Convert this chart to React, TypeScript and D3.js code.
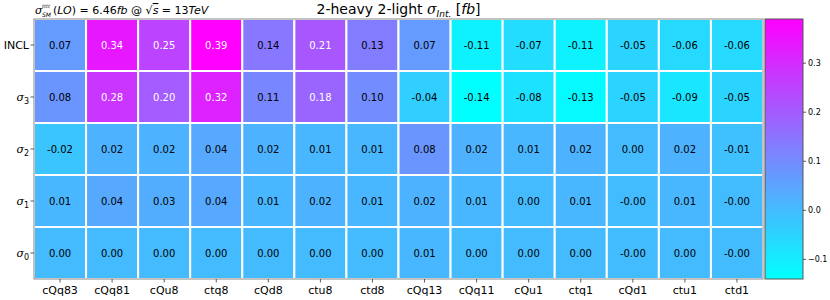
import React from 'react';
import * as d3 from 'd3';

// operators along x
const operators = ['cQq83', 'cQq81', 'cQu8', 'ctq8', 'cQd8', 'ctu8', 'ctd8', 'cQq13', 'cQq11', 'cQu1', 'ctq1', 'cQd1', 'ctu1', 'ctd1'];

// rows, top to bottom
const rowKeys = ['INCL', 's3', 's2', 's1', 's0'];

const incl = [0.07, 0.34, 0.25, 0.39, 0.14, 0.21, 0.13, 0.07, -0.11, -0.07, -0.11, -0.05, -0.06, -0.06];
const sigma3 = [0.08, 0.28, 0.20, 0.32, 0.11, 0.18, 0.10, -0.04, -0.14, -0.08, -0.13, -0.05, -0.09, -0.05];
const sigma2 = [-0.02, 0.02, 0.02, 0.04, 0.02, 0.01, 0.01, 0.08, 0.02, 0.01, 0.02, 0.001, 0.02, -0.01];
const sigma1 = [0.01, 0.04, 0.03, 0.04, 0.01, 0.02, 0.01, 0.02, 0.01, 0.001, 0.01, -0.001, 0.01, -0.001];
const sigma0 = [0.001, 0.001, 0.001, 0.001, 0.001, 0.001, 0.001, 0.01, 0.001, 0.001, 0.001, -0.001, 0.001, -0.001];

const colorTicks = [-0.1, 0.0, 0.1, 0.2, 0.3];

const rows = [incl, sigma3, sigma2, sigma1, sigma0];

const margin = { top: 19, right: 67, bottom: 21, left: 34 };
const W = 830;
const H = 300;
const font = 'DejaVu Sans, sans-serif';

// matplotlib "cool"
const cool = (t: number) => {
  const c = Math.max(0, Math.min(1, t));
  return `rgb(${Math.round(255 * c)},${Math.round(255 * (1 - c))},255)`;
};

const RowLabel = ({ k }: { k: string }) => {
  if (k === 'INCL') return <tspan>INCL</tspan>;
  return (
    <>
      <tspan fontStyle="italic" fontFamily="DejaVu Serif, serif">σ</tspan>
      <tspan fontSize={8} dy={3}>{k.slice(1)}</tspan>
    </>
  );
};

export default function App() {
  const x0 = margin.left;
  const x1 = 763;
  const y0 = margin.top;
  const y1 = H - margin.bottom;

  const x = d3.scaleBand().domain(operators).range([x0, x1]);
  const y = d3.scaleBand().domain(rowKeys).range([y0, y1]);

  const all = rows.flat();
  const vmin = d3.min(all) as number;
  const vmax = d3.max(all) as number;
  const norm = d3.scaleLinear().domain([vmin, vmax]).range([0, 1]);

  const cbX = 765;
  const cbW = 38;
  const cb = d3.scaleLinear().domain([vmin, vmax]).range([y1, y0]);
  const stops = d3.range(0, 1.0001, 0.1);

  return (
    <svg width={W} height={H} style={{ position: 'absolute', left: 0, top: 0 }} fontFamily={font}>
      <defs>
        <linearGradient id="cbgrad" x1="0" y1="1" x2="0" y2="0">
          {stops.map((s) => (
            <stop key={s} offset={`${s * 100}%`} stopColor={cool(s)} />
          ))}
        </linearGradient>
      </defs>

      {/* cells */}
      {rows.map((vals, ri) =>
        vals.map((v, ci) => {
          const cx = x(operators[ci])!;
          const cy = y(rowKeys[ri])!;
          return (
            <g key={`${ri}-${ci}`}>
              <rect x={cx} y={cy} width={x.bandwidth()} height={y.bandwidth()} fill={cool(norm(v))} stroke="white" strokeWidth={2} />
              <text
                x={cx + x.bandwidth() / 2}
                y={cy + y.bandwidth() / 2}
                dy="0.35em"
                textAnchor="middle"
                fontSize={10}
                fill={v > 0.15 ? 'white' : 'black'}
              >
                {v.toFixed(2)}
              </text>
            </g>
          );
        })
      )}
      <rect x={x0} y={y0} width={x1 - x0} height={y1 - y0} fill="none" stroke="#888" strokeWidth={1} />

      {/* x axis */}
      {operators.map((o) => {
        const tx = x(o)! + x.bandwidth() / 2;
        return (
          <g key={o}>
            <line x1={tx} x2={tx} y1={y1} y2={y1 + 3.5} stroke="#333" strokeWidth={0.8} />
            <text x={tx} y={y1 + 15} textAnchor="middle" fontSize={11} fill="black">{o}</text>
          </g>
        );
      })}

      {/* y axis */}
      {rowKeys.map((k) => {
        const ty = y(k)! + y.bandwidth() / 2;
        return (
          <g key={k}>
            <line x1={x0 - 3.5} x2={x0} y1={ty} y2={ty} stroke="#333" strokeWidth={0.8} />
            <text x={x0 - 5} y={ty} dy="0.35em" textAnchor="end" fontSize={11} fill="black">
              <RowLabel k={k} />
            </text>
          </g>
        );
      })}

      {/* colorbar */}
      <rect x={cbX} y={y0} width={cbW} height={y1 - y0} fill="url(#cbgrad)" stroke="#555" strokeWidth={1} />
      {colorTicks.map((t) => (
        <g key={t}>
          <line x1={cbX + cbW} x2={cbX + cbW + 3} y1={cb(t)} y2={cb(t)} stroke="#333" strokeWidth={0.8} />
          <text x={cbX + cbW + 5} y={cb(t)} dy="0.35em" fontSize={8} fill="black">
            {t < 0 ? `\u2212${Math.abs(t).toFixed(1)}` : t.toFixed(1)}
          </text>
        </g>
      ))}

      {/* title */}
      <text x={(x0 + x1) / 2} y={14} textAnchor="middle" fontSize={14} fill="black">
        2-heavy 2-light{' '}
        <tspan fontStyle="italic" fontFamily="DejaVu Serif, serif">σ</tspan>
        <tspan fontSize={9} dy={3} fontStyle="italic">Int.</tspan>
        <tspan dy={-3}> [</tspan>
        <tspan fontStyle="italic">fb</tspan>
        <tspan>]</tspan>
      </text>

      {/* cross section note: sigma with stacked super/subscript */}
      <text x={x0 + 1} y={14} fontSize={11} fill="black">
        <tspan fontStyle="italic" fontFamily="DejaVu Serif, serif">σ</tspan>
      </text>
      <text x={x0 + 8} y={8} fontSize={5} fontStyle="italic" fill="black">tttt</text>
      <text x={x0 + 8} y={17} fontSize={6} fontStyle="italic" fill="black">SM</text>
      <text x={x0 + 19} y={14} fontSize={11} fill="black">
        <tspan>(</tspan>
        <tspan fontStyle="italic">LO</tspan>
        <tspan>) = 6.46</tspan>
        <tspan fontStyle="italic">fb</tspan>
        <tspan> @ √</tspan>
        <tspan fontStyle="italic" textDecoration="overline">s</tspan>
        <tspan> = 13</tspan>
        <tspan fontStyle="italic">TeV</tspan>
      </text>
    </svg>
  );
}
